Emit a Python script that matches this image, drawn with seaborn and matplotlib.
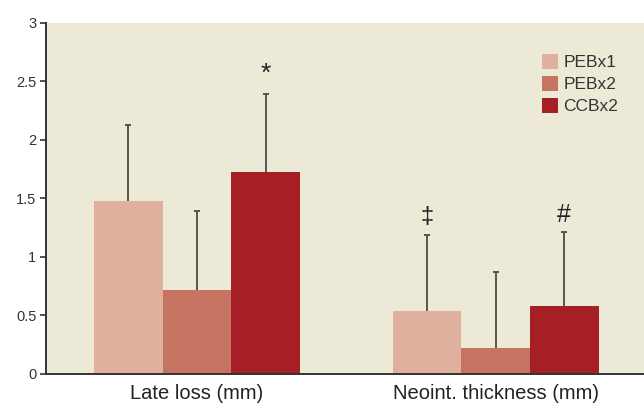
import pandas as pd
import numpy as np
import matplotlib
matplotlib.use('Agg')
import matplotlib.pyplot as plt
import seaborn as sns

## Data (means and upper SD)

categories = ['Late loss (mm)', 'Neoint. thickness (mm)']
groups = ['PEBx1', 'PEBx2', 'CCBx2']
means = {'PEBx1': [1.48, 0.54], 'PEBx2': [0.72, 0.22], 'CCBx2': [1.73, 0.58]}
sds = {'PEBx1': [0.65, 0.65], 'PEBx2': [0.67, 0.65], 'CCBx2': [0.66, 0.63]}
marks = {('CCBx2', 0): '*', ('PEBx1', 1): '\u2021', ('CCBx2', 1): '#'}

colors = ['#E0B09F', '#C47461', '#A51F24']

rows = []
for g in groups:
    for i, c in enumerate(categories):
        rows.append({'cat': c, 'group': g, 'mean': means[g][i], 'sd': sds[g][i]})
df = pd.DataFrame(rows)

sns.set_style('white')
plt.rcParams['font.family'] = ['Liberation Sans', 'DejaVu Sans']

fig = plt.figure(figsize=(6.44, 4.03), dpi=100)
ax = fig.add_axes([0.0714, 0.072, 0.9286, 0.871])
ax.set_facecolor('#ECE9D7')

sns.barplot(data=df, x='cat', y='mean', hue='group', hue_order=groups,
            order=categories, palette=colors, width=0.69, gap=0,
            saturation=1, errorbar=None, linewidth=0, ax=ax)

# error bars (upper only) and significance marks, placed from the drawn bars
sym_size = {'*': 19, '\u2021': 17, '#': 18}
sym_off = {'*': 6, '\u2021': 5, '#': 4}
for k, g in enumerate(groups):
    cont = ax.containers[k]
    for i, bar in enumerate(cont):
        xc = bar.get_x() + bar.get_width() / 2
        top = bar.get_height()
        sd = sds[g][i]
        eb = ax.errorbar(xc, top, yerr=[[0], [sd]], color='#4a4a4a', lw=1.3,
                         capsize=2.4, capthick=1.3, fmt='none')
        eb[1][0].set_visible(False)  # no cap at the bar top
        if (g, i) in marks:
            sym = marks[(g, i)]
            ax.annotate(sym, (xc, top + sd), xytext=(0, sym_off[sym]),
                        textcoords='offset points', ha='center', va='bottom',
                        fontsize=sym_size[sym], color='#222222')

ax.set_ylim(0, 3)
ax.set_xlim(-0.506, 1.497)
ax.set_yticks([0, 0.5, 1, 1.5, 2, 2.5, 3])
ax.set_yticklabels(['0', '0.5', '1', '1.5', '2', '2.5', '3'], fontsize=10.5)
ax.tick_params(axis='y', length=4, width=1.2, color='#333333', pad=3,
               labelcolor='#333333', left=True)
ax.tick_params(axis='x', length=0, pad=7, labelsize=14.5, labelcolor='#222222')
ax.set_xlabel('')
ax.set_ylabel('')

for s in ['top', 'right']:
    ax.spines[s].set_visible(False)
for s in ['left', 'bottom']:
    ax.spines[s].set_color('#333333')
    ax.spines[s].set_linewidth(1.4)

handles, labels = ax.get_legend_handles_labels()
ax.legend(handles, labels, loc='upper left', bbox_to_anchor=(0.829, 0.912),
          frameon=False, fontsize=12.5, handlelength=0.95, handleheight=0.95,
          handletextpad=0.3, labelspacing=0.32, borderpad=0, borderaxespad=0,
          labelcolor='#333333')

plt.savefig('out.png', dpi=100)
